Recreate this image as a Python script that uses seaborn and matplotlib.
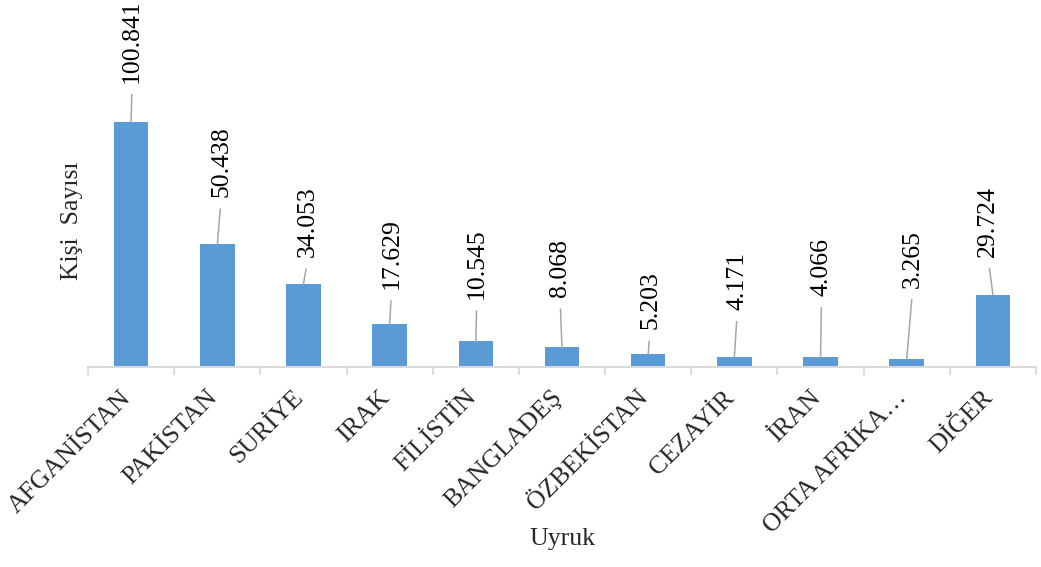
import matplotlib
matplotlib.use("Agg")
import matplotlib.pyplot as plt
import matplotlib.transforms as mtransforms
import numpy as np
import pandas as pd
import seaborn as sns

# ---- data ----
categories = ["AFGANİSTAN", "PAKİSTAN", "SURİYE", "IRAK", "FİLİSTİN", "BANGLADEŞ",
              "ÖZBEKİSTAN", "CEZAYİR", "İRAN", "ORTA AFRİKA…", "DİĞER"]
values = [100841, 50438, 34053, 17629, 10545, 8068, 5203, 4171, 4066, 3265, 29724]
x_title = "Uyruk"
y_title = "Kişi  Sayısı"

# label placement (pixel offsets of label bottom from bar top)
label_dx = [1, 4, 4.5, 2, 1, -2, 2, 3, 1, 6, -5]
label_dy = [39, 47, 27, 35, 42, 50, 25, 47, 61, 71, 38]

def fmt(v):
    return f"{v:,}".replace(",", ".")

sns.set_theme(style="white")
plt.rcParams["font.family"] = ["Liberation Serif", "DejaVu Serif"]
FS = 18.5

fig = plt.figure(figsize=(10.41, 5.67), dpi=100)
ax = fig.add_axes([88 / 1041, 1 - 367 / 567, 948 / 1041, 367 / 567])

df = pd.DataFrame({"cat": categories, "val": values})
sns.barplot(data=df, x="cat", y="val", color="#5B9BD5", saturation=1,
            width=0.4, ax=ax, edgecolor="none")

ax.set_xlim(-0.5, len(categories) - 0.5)
ax.set_ylim(0, 151000)

for i, v in enumerate(values):
    ax.annotate(fmt(v), xy=(i, v), xytext=(label_dx[i], label_dy[i]),
                textcoords="offset pixels", rotation=90, ha="center", va="bottom",
                fontsize=FS, color="black", annotation_clip=False,
                arrowprops=dict(arrowstyle="-", color="#A6A6A6", lw=1.1,
                                shrinkA=6, shrinkB=0, relpos=(0.5, 0)))

for s in ["left", "top", "right"]:
    ax.spines[s].set_visible(False)
ax.spines["bottom"].set_color("#D9D9D9")
ax.spines["bottom"].set_linewidth(1.5)
ax.set_yticks([])

ax.set_xticks(range(len(categories)))
ax.set_xticklabels(categories, rotation=45, ha="right", fontsize=FS)
ax.set_xticks(np.arange(-0.5, len(categories), 1), minor=True)
ax.tick_params(axis="x", which="major", length=0, pad=14)
ax.tick_params(axis="x", which="minor", length=6, width=1.3, color="#D9D9D9",
               bottom=True)
offset = mtransforms.ScaledTranslation(4.5 / 100, 0, fig.dpi_scale_trans)
for lab in ax.get_xticklabels():
    lab.set_transform(lab.get_transform() + offset)

ax.set_xlabel(x_title, fontsize=FS)
ax.set_ylabel(y_title, fontsize=FS)
ax.xaxis.set_label_coords(0.5, -0.44)
ax.yaxis.set_label_coords(-0.005, 0.398)

fig.savefig("out.png", dpi=100)
